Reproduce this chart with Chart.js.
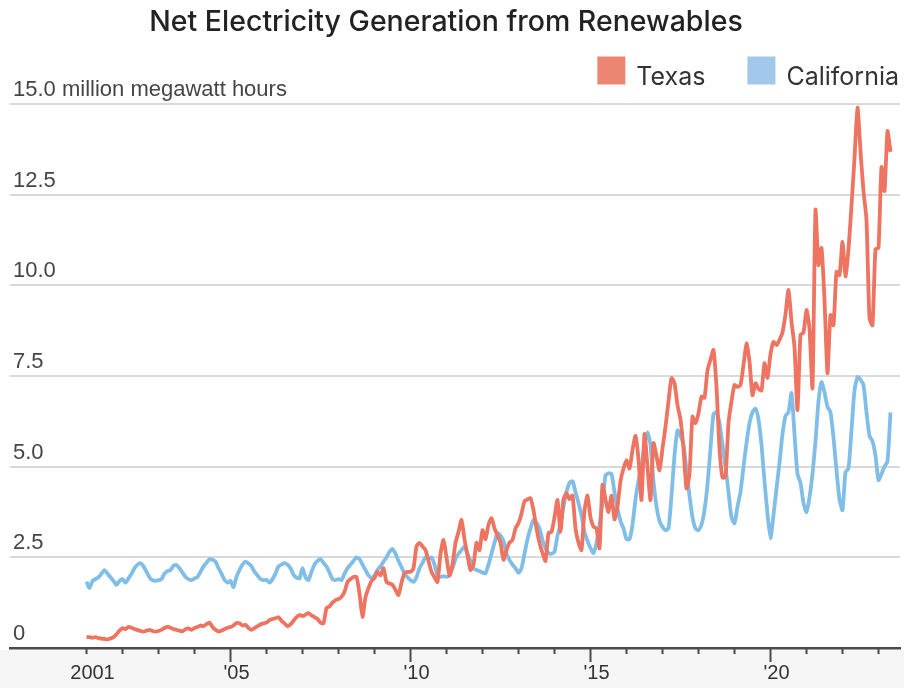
<!DOCTYPE html>
<html>
<head>
<meta charset="utf-8">
<title>Net Electricity Generation from Renewables</title>
<script src="https://cdn.jsdelivr.net/npm/chart.js@4.4.0/dist/chart.umd.min.js"></script>
<style>
  html, body { margin: 0; padding: 0; background: #ffffff; }
  #wrap { width: 904px; height: 688px; position: relative; }
</style>
</head>
<body>
<div id="wrap"><canvas id="chart"></canvas></div>
<script>
// Monthly net generation from renewables, million MWh, Jan 2001 - May 2023
const startYear = 2001;
const chartTitle = 'Net Electricity Generation from Renewables';
const yTickValues = [0, 2.5, 5, 7.5, 10, 12.5, 15];
const xTickLabels = { 2001: '2001', 2005: "'05", 2010: "'10", 2015: "'15", 2020: "'20" };
const seriesNames = ['Texas', 'California'];

const texas = [
  0.30,0.30,0.28,0.30,0.27,0.26,0.25,0.24,0.26,0.30,0.38,0.48,
  0.55,0.52,0.58,0.56,0.52,0.50,0.47,0.45,0.48,0.50,0.47,0.45,
  0.47,0.50,0.55,0.58,0.56,0.52,0.50,0.48,0.46,0.52,0.54,0.50,
  0.55,0.58,0.62,0.60,0.66,0.70,0.58,0.50,0.45,0.48,0.52,0.56,
  0.58,0.62,0.69,0.68,0.62,0.64,0.55,0.50,0.55,0.60,0.65,0.68,
  0.70,0.77,0.80,0.82,0.85,0.75,0.68,0.60,0.65,0.75,0.85,0.91,
  0.88,0.92,0.96,0.90,0.85,0.80,0.70,0.68,1.10,1.15,1.25,1.32,
  1.35,1.41,1.55,1.82,1.90,1.96,1.96,1.50,0.86,1.40,1.65,1.85,
  1.93,2.10,2.00,2.20,1.82,1.78,1.74,1.60,1.46,1.80,2.06,2.10,
  2.10,2.20,2.80,2.90,2.80,2.70,2.40,2.10,1.95,1.82,2.60,2.98,
  2.50,2.00,2.30,2.90,3.20,3.53,3.00,2.55,2.15,2.30,2.90,2.70,
  3.25,3.00,3.40,3.58,3.30,3.10,2.90,2.43,2.70,2.90,2.98,3.30,
  3.44,3.70,4.05,4.10,4.13,3.80,3.30,2.90,2.62,2.40,3.17,3.20,
  3.60,4.08,3.20,4.10,4.27,4.10,4.20,3.30,2.90,2.70,3.80,4.20,
  3.60,3.34,3.30,2.75,4.50,4.10,3.75,4.20,3.55,3.90,4.60,4.95,
  5.18,4.95,5.46,5.85,5.20,4.08,5.90,5.00,4.08,5.65,5.30,4.90,
  5.50,6.10,6.80,7.44,7.30,6.70,6.30,5.50,4.40,4.80,6.38,6.20,
  6.47,6.93,6.90,7.66,7.95,8.22,7.20,5.50,4.70,4.72,6.20,6.80,
  7.25,7.20,7.25,7.80,8.40,7.90,6.97,7.30,7.15,7.10,7.85,7.45,
  8.10,8.44,8.35,8.50,8.70,9.20,9.87,9.00,8.30,6.56,8.63,8.70,
  9.32,8.80,7.17,12.08,10.56,11.03,9.60,7.58,9.18,8.90,10.37,10.28,
  11.20,10.25,11.00,12.20,13.50,14.90,13.70,12.60,11.80,9.10,8.90,11.00,
  11.03,13.26,12.60,14.25,13.68
];

const california = [
  1.83,1.65,1.85,1.90,1.95,2.05,2.15,2.05,1.95,1.85,1.74,1.85,
  1.90,1.80,1.92,2.05,2.20,2.30,2.34,2.25,2.10,1.95,1.87,1.85,
  1.87,1.90,2.05,2.12,2.15,2.27,2.29,2.20,2.08,1.96,1.90,1.87,
  1.92,1.96,2.10,2.25,2.35,2.45,2.43,2.38,2.20,2.05,1.88,1.80,
  1.85,1.68,1.96,2.15,2.30,2.38,2.33,2.25,2.10,2.00,1.90,1.87,
  1.88,1.80,1.90,2.05,2.25,2.30,2.34,2.30,2.20,2.02,1.94,1.92,
  2.20,1.95,1.87,2.10,2.30,2.40,2.45,2.35,2.25,2.08,1.90,1.87,
  1.90,1.87,2.05,2.20,2.30,2.40,2.50,2.45,2.30,2.15,2.00,1.93,
  2.00,2.15,2.25,2.38,2.50,2.65,2.73,2.60,2.40,2.23,2.05,1.95,
  1.87,1.82,1.95,2.20,2.35,2.50,2.45,2.50,2.30,2.00,1.96,1.98,
  1.96,2.00,2.20,2.45,2.60,2.70,2.80,2.60,2.40,2.20,2.15,2.12,
  2.08,2.06,2.30,2.60,2.90,3.17,3.10,2.95,2.60,2.43,2.30,2.20,
  2.07,2.20,2.60,3.00,3.30,3.53,3.45,3.30,2.98,2.75,2.62,2.60,
  2.65,3.10,3.40,3.90,4.30,4.55,4.60,4.30,4.00,3.65,3.20,2.95,
  2.75,2.62,2.90,3.40,4.00,4.75,4.82,4.80,4.30,3.85,3.50,3.30,
  3.00,3.00,3.40,4.10,4.60,5.00,5.60,5.95,5.60,4.60,3.90,3.50,
  3.34,3.25,3.30,4.20,5.30,6.00,5.85,5.60,4.90,4.20,3.60,3.30,
  3.25,3.40,3.80,4.50,5.50,6.45,6.50,6.20,5.60,5.00,4.30,3.60,
  3.44,3.90,4.30,5.00,5.65,6.20,6.50,6.60,6.30,5.60,4.60,3.70,
  3.03,3.67,4.40,5.10,5.90,6.40,6.50,7.03,5.90,4.80,4.55,4.00,
  3.75,4.15,4.80,5.70,6.80,7.33,7.05,6.65,6.50,5.80,4.90,4.10,
  3.80,4.85,4.95,6.00,7.10,7.47,7.40,7.25,6.50,5.85,5.70,5.30,
  4.63,4.80,5.00,5.15,6.50
];

// styling
const lineColors = ['#ee7461', '#80bee8'];
const swatchColors = ['#ec8673', '#a2c8ec'];
const sansFont = "Inter, 'Noto Sans', sans-serif";
const axisFont = "'Liberation Sans', Arial, sans-serif";

const toPoints = arr => arr.map((v, i) => ({ x: i, y: v }));
const lastYear = startYear + Math.floor((texas.length - 1) / 12);
const yearTicks = [];
for (let y = startYear; y <= lastYear; y++) yearTicks.push((y - startYear) * 12);

// pale strip under the axis, yearly tick marks (longer every five years)
const yearMarks = {
  id: 'yearMarks',
  beforeDraw(chart) {
    const ctx = chart.ctx;
    const xs = chart.scales.x;
    ctx.save();
    ctx.fillStyle = '#f5f5f5';
    ctx.fillRect(0, xs.top + 2, chart.width, chart.height - xs.top - 2);
    ctx.restore();
  },
  afterDraw(chart) {
    const ctx = chart.ctx;
    const xs = chart.scales.x;
    ctx.save();
    ctx.strokeStyle = '#4a4a4a';
    ctx.lineWidth = 2;
    yearTicks.forEach(v => {
      const yr = startYear + v / 12;
      const major = yr % 5 === 0;
      const px = Math.round(xs.getPixelForValue(v)) + 0.5;
      ctx.beginPath();
      ctx.moveTo(px, xs.top);
      ctx.lineTo(px, xs.top + (major ? 14 : 6));
      ctx.stroke();
    });
    ctx.restore();
  }
};

// heading and legend: title centred on the page, square swatches right-aligned below it
const header = {
  id: 'header',
  afterDraw(chart) {
    const ctx = chart.ctx;
    ctx.save();
    ctx.fillStyle = '#222222';
    ctx.font = "500 28.5px " + sansFont;
    ctx.textAlign = 'center';
    ctx.textBaseline = 'alphabetic';
    ctx.fillText(chartTitle, 446, 31);

    const box = 28, gapText = 11, gapItem = 42, right = 899, top = 56.5;
    ctx.font = "400 25px " + sansFont;
    ctx.textAlign = 'left';
    const items = chart.data.datasets.map((ds, i) => ({ text: ds.label, color: swatchColors[i] }));
    const widths = items.map(it => box + gapText + ctx.measureText(it.text).width);
    let x = right - widths.reduce((a, b) => a + b, 0) - gapItem * (items.length - 1);
    items.forEach((it, i) => {
      ctx.fillStyle = it.color;
      ctx.fillRect(x, top, box, box);
      ctx.fillStyle = '#333333';
      ctx.fillText(it.text, x + box + gapText, top + box);
      x += widths[i] + gapItem;
    });
    ctx.restore();
  }
};

new Chart(document.getElementById('chart'), {
  type: 'line',
  data: {
    datasets: [
      {
        label: seriesNames[0],
        data: toPoints(texas),
        borderColor: lineColors[0],
        backgroundColor: swatchColors[0],
        borderWidth: 3.8,
        pointRadius: 0,
        tension: 0.2,
        order: 0
      },
      {
        label: seriesNames[1],
        data: toPoints(california),
        borderColor: lineColors[1],
        backgroundColor: swatchColors[1],
        borderWidth: 3.8,
        pointRadius: 0,
        tension: 0.2,
        order: 1
      }
    ]
  },
  plugins: [yearMarks, header],
  options: {
    responsive: true,
    maintainAspectRatio: false,
    devicePixelRatio: 1,
    animation: false,
    layout: { padding: { left: 10, right: 4, top: 104, bottom: -10 } },
    plugins: {
      title: { display: false },
      legend: { display: false },
      tooltip: { enabled: false }
    },
    scales: {
      x: {
        type: 'linear',
        min: -25.5,
        max: 271.17,
        afterBuildTicks(scale) {
          scale.ticks = yearTicks.map(v => ({ value: v }));
        },
        grid: { display: true, drawOnChartArea: false, drawTicks: false },
        border: { display: true, color: '#4a4a4a', width: 2.5 },
        ticks: {
          autoSkip: false,
          maxRotation: 0,
          padding: 13,
          labelOffset: 6,
          color: '#333333',
          font: { family: axisFont, size: 20 },
          callback(value) {
            return xTickLabels[startYear + value / 12] || '';
          }
        }
      },
      y: {
        type: 'linear',
        min: 0,
        max: 15,
        afterBuildTicks(scale) {
          scale.ticks = yTickValues.map(v => ({ value: v }));
        },
        afterFit(scale) {
          scale.width = 0;
          scale.paddingTop = 0;
          scale.paddingBottom = 0;
        },
        grid: { color: '#d9d9d9', lineWidth: 2, drawTicks: false },
        border: { display: false },
        ticks: {
          mirror: true,
          padding: 3,
          labelOffset: -14,
          color: '#454545',
          font: { family: axisFont, size: 22 },
          callback(value) {
            if (value === 15) return '15.0 million megawatt hours';
            if (value === 0) return '0';
            return value.toFixed(1);
          }
        }
      }
    }
  }
});
</script>
</body>
</html>
